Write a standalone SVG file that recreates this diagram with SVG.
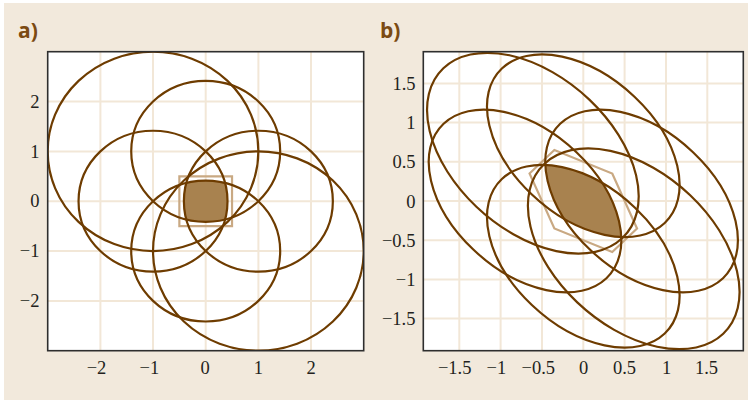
<svg xmlns="http://www.w3.org/2000/svg" width="750" height="402" viewBox="0 0 750 402">
<style>
.bg{fill:#f2e9dc}
.plot{fill:#ffffff}
.frame{fill:none;stroke:#2e2e2e;stroke-width:1.6}
.grid{stroke:#f2e7d7;stroke-width:2;fill:none}
.c{fill:none;stroke:#6e3c00;stroke-width:2.2;vector-effect:non-scaling-stroke}
.box{fill:none;stroke:#c9a983;stroke-width:2.2;vector-effect:non-scaling-stroke}
.shade{fill:#a8824f;stroke:none}
.tick{font-family:"Liberation Serif","Times New Roman",serif;font-size:18.5px;fill:#231f20}
.ty{text-anchor:end}
.tx{text-anchor:middle}
.lab{font-family:"Open Sans","Liberation Sans",sans-serif;font-weight:bold;font-size:21px;fill:#7b4a12}
</style>
<defs>
<clipPath id="clipA"><rect x="-3" y="-3" width="6" height="6"/></clipPath>
<clipPath id="clipB"><rect x="-1.936" y="-1.907" width="3.872" height="3.814"/></clipPath>
<clipPath id="k1"><ellipse cx="-0.61" cy="0.61" rx="1.531" ry="0.966" transform="rotate(-45 -0.61 0.61)"/></clipPath>
<clipPath id="k2"><ellipse cx="0" cy="0.705" rx="1.393" ry="0.880" transform="rotate(-45 0 0.705)"/></clipPath>
<clipPath id="k3"><ellipse cx="-0.705" cy="0" rx="1.393" ry="0.880" transform="rotate(-45 -0.705 0)"/></clipPath>
<clipPath id="k4"><ellipse cx="0.705" cy="0" rx="1.393" ry="0.880" transform="rotate(-45 0.705 0)"/></clipPath>
<clipPath id="k5"><ellipse cx="0" cy="-0.705" rx="1.393" ry="0.880" transform="rotate(-45 0 -0.705)"/></clipPath>
</defs>

<rect class="bg" x="4" y="3" width="744" height="397"/>

<g id="panel-a">
<text class="lab" x="18" y="38">a)</text>
<rect class="plot" x="47.7" y="51.7" width="316" height="299"/>
<g id="grid-a" class="grid">
<path d="M100.4 51.7V350.7M153 51.7V350.7M205.7 51.7V350.7M258.4 51.7V350.7M311 51.7V350.7"/>
<path d="M47.7 101.5H363.7M47.7 151.4H363.7M47.7 201.2H363.7M47.7 251H363.7M47.7 300.9H363.7"/>
</g>
<g id="shapes-a" transform="translate(205.7 201.2) scale(52.67 -49.83)">
<g clip-path="url(#clipA)">
<path id="feasible-a" class="shade" d="M-0.366 -0.366A1.4142 1.4142 0 0 1 0.366 -0.366A1.4142 1.4142 0 0 1 0.366 0.366A1.4142 1.4142 0 0 1 -0.366 0.366A1.4142 1.4142 0 0 1 -0.366 -0.366Z"/>
<rect id="square-a" class="box" x="-0.5" y="-0.5" width="1" height="1"/>
<circle id="ca1" class="c" cx="-1" cy="1" r="2"/>
<circle id="ca2" class="c" cx="0" cy="1" r="1.4142"/>
<circle id="ca3" class="c" cx="-1" cy="0" r="1.4142"/>
<circle id="ca4" class="c" cx="1" cy="0" r="1.4142"/>
<circle id="ca5" class="c" cx="0" cy="-1" r="1.4142"/>
<circle id="ca6" class="c" cx="1" cy="-1" r="2"/>
</g>
</g>
<rect class="frame" x="47.7" y="51.7" width="316" height="299"/>
<g id="ticks-a" class="tick">
<text class="ty" x="39.5" y="107.7">2</text>
<text class="ty" x="39.5" y="157.6">1</text>
<text class="ty" x="39.5" y="207.4">0</text>
<text class="ty" x="39.5" y="257.2">−1</text>
<text class="ty" x="39.5" y="307.1">−2</text>
<text class="tx" x="96.5" y="374">−2</text>
<text class="tx" x="149.3" y="374">−1</text>
<text class="tx" x="205" y="374">0</text>
<text class="tx" x="258.3" y="374">1</text>
<text class="tx" x="311" y="374">2</text>
</g>
</g>

<g id="panel-b">
<text class="lab" x="380" y="38">b)</text>
<rect class="plot" x="423.3" y="51.7" width="320" height="299"/>
<g id="grid-b" class="grid">
<path d="M459.3 51.7V350.7M500.6 51.7V350.7M542 51.7V350.7M583.3 51.7V350.7M624.6 51.7V350.7M666 51.7V350.7M707.3 51.7V350.7"/>
<path d="M423.3 83.4H743.3M423.3 122.6H743.3M423.3 161.8H743.3M423.3 201H743.3M423.3 240.2H743.3M423.3 279.4H743.3M423.3 318.6H743.3"/>
</g>
<g id="shapes-b" transform="translate(583.3 201) scale(82.67 -78.4)">
<g clip-path="url(#clipB)">
<g clip-path="url(#k1)"><g clip-path="url(#k2)"><g clip-path="url(#k3)"><g clip-path="url(#k4)"><g clip-path="url(#k5)">
<ellipse id="feasible-b" class="shade" cx="0.61" cy="-0.61" rx="1.531" ry="0.966" transform="rotate(-45 0.61 -0.61)"/>
</g></g></g></g></g>
<polygon id="hexagon-b" class="box" points="0.35,0.35 0.65,-0.35 0.35,-0.65 -0.35,-0.35 -0.65,0.35 -0.35,0.65"/>
<ellipse id="eb1" class="c" cx="-0.61" cy="0.61" rx="1.531" ry="0.966" transform="rotate(-45 -0.61 0.61)"/>
<ellipse id="eb2" class="c" cx="0" cy="0.705" rx="1.393" ry="0.880" transform="rotate(-45 0 0.705)"/>
<ellipse id="eb3" class="c" cx="-0.705" cy="0" rx="1.393" ry="0.880" transform="rotate(-45 -0.705 0)"/>
<ellipse id="eb4" class="c" cx="0.705" cy="0" rx="1.393" ry="0.880" transform="rotate(-45 0.705 0)"/>
<ellipse id="eb5" class="c" cx="0" cy="-0.705" rx="1.393" ry="0.880" transform="rotate(-45 0 -0.705)"/>
<ellipse id="eb6" class="c" cx="0.61" cy="-0.61" rx="1.531" ry="0.966" transform="rotate(-45 0.61 -0.61)"/>
</g>
</g>
<rect class="frame" x="423.3" y="51.7" width="320" height="299"/>
<g id="ticks-b" class="tick">
<text class="ty" x="415.5" y="89.9">1.5</text>
<text class="ty" x="415.5" y="129.1">1</text>
<text class="ty" x="415.5" y="168.3">0.5</text>
<text class="ty" x="415.5" y="207.5">0</text>
<text class="ty" x="415.5" y="246.7">−0.5</text>
<text class="ty" x="415.5" y="285.9">−1</text>
<text class="ty" x="415.5" y="325.1">−1.5</text>
<text class="tx" x="454.7" y="373.5">−1.5</text>
<text class="tx" x="496.3" y="373.5">−1</text>
<text class="tx" x="538.3" y="373.5">−0.5</text>
<text class="tx" x="583.5" y="373.5">0</text>
<text class="tx" x="624.5" y="373.5">0.5</text>
<text class="tx" x="666.5" y="373.5">1</text>
<text class="tx" x="706.5" y="373.5">1.5</text>
</g>
</g>
</svg>
